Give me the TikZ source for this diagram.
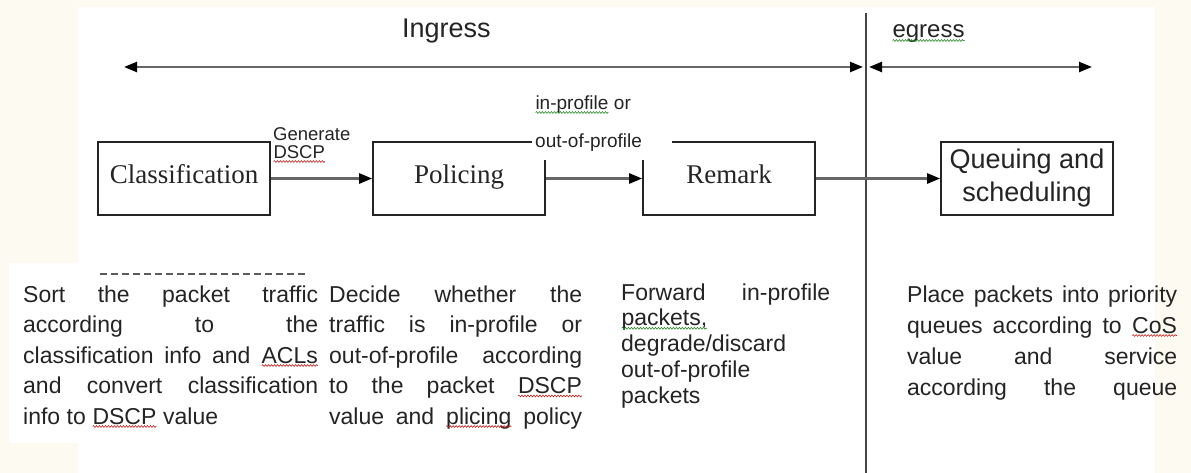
\documentclass[tikz,border=0pt]{standalone}
\usepackage{fontspec}
\setmainfont{Liberation Sans}
\newfontfamily\seriffont{Liberation Serif}
\usetikzlibrary{arrows.meta,decorations.pathmorphing}
\definecolor{cream}{HTML}{FDFAF1}
\definecolor{ink}{HTML}{242424}
\definecolor{linegray}{HTML}{666666}
\definecolor{wred}{HTML}{C02020}
\definecolor{wgreen}{HTML}{2E8B2E}
\newcommand\wavy[2]{\tikz[baseline=(w.base)]{\node[inner sep=0pt, outer sep=0pt, anchor=base, text width={}, align=none, draw=none, fill=none, minimum width=0pt, minimum height=0pt] (w) {#2};
 \draw[draw=#1, line width=0.6pt, decorate, decoration={snake, amplitude=0.9pt, segment length=3pt}] ([yshift=-2.5pt]w.base west) -- ([yshift=-2.5pt]w.base east);}}
\begin{document}
\begin{tikzpicture}[x=1pt,y=-1pt,
  box/.style={draw=ink, line width=1.6pt, fill=white, minimum width=172pt, minimum height=73pt, inner sep=0pt, text=ink, text height=17pt, text depth=7pt, font=\seriffont\fontsize{27}{30}\selectfont},
  flow/.style={draw=linegray, line width=2.4pt, -{Triangle[length=13pt,width=10pt,color=black]}},
  span/.style={draw=linegray, line width=2.4pt, {Triangle[length=13pt,width=10pt,color=black]}-{Triangle[length=13pt,width=10pt,color=black]}},
  lbl/.style={inner sep=0pt, anchor=base west, text=ink},
  desc/.style={inner sep=0pt, anchor=base west, text=ink, font=\fontsize{23}{30.5}\selectfont}]
\useasboundingbox (0,0) rectangle (1191,473);
% background
\fill[cream] (0,0) rectangle (1191,473);
\fill[white] (78,7) rectangle (1155,473);
\fill[white] (9,263) rectangle (600,443);
% headings and spans
\node[lbl, font=\fontsize{27}{27}\selectfont] (ing) at (402,38) {Ingress};
\node[lbl, font=\fontsize{24}{24}\selectfont] (egr) at (892,38) {\wavy{wgreen}{egress}};
\coordinate (inL) at (124,67);
\coordinate (inR) at (863,67);
\coordinate (egL) at (869,67);
\coordinate (egR) at (1092,67);
\coordinate (vT) at (866,13);
\coordinate (vB) at (866,473);
\draw[draw=ink!85, line width=1.6pt] (vT) -- (vB);
\draw[span] (inL) -- (inR);
\draw[span] (egL) -- (egR);
% boxes
\node[box] (cls) at (184,178.5) {Classification};
\node[box] (pol) at (459,178.5) {Policing};
\node[box] (rem) at (729,178.5) {Remark};
\node[box, text height={}, text depth={}, font=\fontsize{27}{33}\selectfont, align=center] (que) at (1027,178.5) {Queuing and\\scheduling};
% connectors
\draw[flow] (cls.east) -- (pol.west);
\draw[flow] (pol.east) -- (rem.west);
\draw[flow] (rem.east) -- (que.west);
% connector labels
\node[lbl, font=\fontsize{18.5}{18}\selectfont] (gen) at (273,141) {\parbox[t]{90pt}{Generate\\\wavy{wred}{DSCP}}};
\node[lbl, font=\fontsize{19}{19}\selectfont] (inp) at (535,110) {\wavy{wgreen}{in-profile} or};
\node[fill=white, inner xsep=3pt, inner ysep=0pt, anchor=north west, text width=134pt, minimum height=36pt, align=left, text=ink, font=\fontsize{19}{19}\selectfont] (oop) at (532,124) {out-of-profile};
% clipped text remnant
\draw[ink!75, line width=2pt, dash pattern=on 7pt off 4pt] (100,274) -- (306,274);
% descriptions
\node[desc] (d1) at (23,302) {\parbox[t]{295pt}{%
\makebox[295pt][s]{Sort the packet traffic}\\
\makebox[295pt][s]{according to the}\\
\makebox[295pt][s]{classification info and \wavy{wred}{ACLs}}\\
\makebox[295pt][s]{and convert classification}\\
info to \wavy{wred}{DSCP} value}};
\node[desc] (d2) at (329,302) {\parbox[t]{253pt}{%
\makebox[253pt][s]{Decide whether the}\\
\makebox[253pt][s]{traffic is in-profile or}\\
\makebox[253pt][s]{out-of-profile according}\\
\makebox[253pt][s]{to the packet \wavy{wred}{DSCP}}\\
\makebox[253pt][s]{value and \wavy{wred}{plicing} policy}}};
\node[desc, font=\fontsize{23}{25.75}\selectfont] (d3) at (621,300) {\parbox[t]{209pt}{%
\makebox[209pt][s]{Forward in-profile}\\
\wavy{wgreen}{packets,}\\
degrade/discard\\
out-of-profile\\
packets}};
\node[desc, font=\fontsize{23}{31}\selectfont] (d4) at (907,302) {\parbox[t]{270pt}{%
\makebox[270pt][s]{Place packets into priority}\\
\makebox[270pt][s]{queues according to \wavy{wred}{CoS}}\\
\makebox[270pt][s]{value and service}\\
\makebox[270pt][s]{according the queue}}};
\end{tikzpicture}
\end{document}
